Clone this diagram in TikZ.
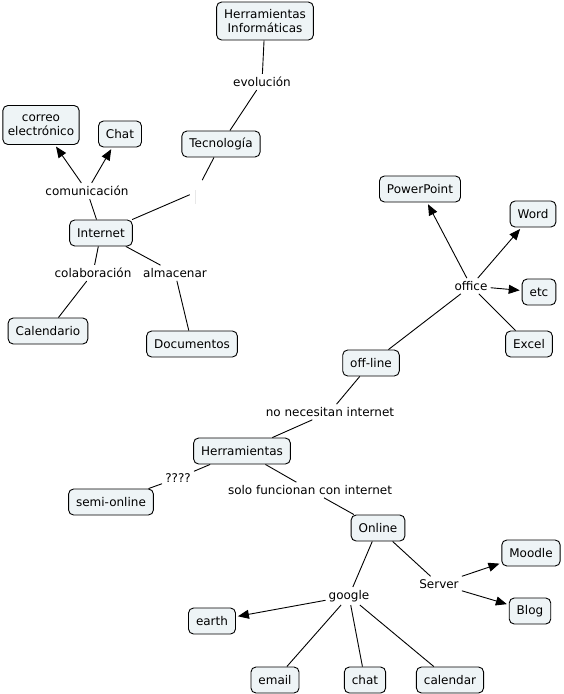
\documentclass[tikz,border=0pt]{standalone}
\usepackage{fontspec}
\setmainfont{DejaVu Sans}
\usetikzlibrary{arrows.meta}
\definecolor{boxfill}{RGB}{238,244,246}
\tikzset{
  concept/.style={draw=black, line width=0.9pt, fill=boxfill, rounded corners=5pt,
    inner xsep=7.5pt, inner ysep=4pt, minimum height=26pt, align=center,
    font=\fontsize{12}{14}\selectfont},
  phrase/.style={inner sep=3pt, font=\fontsize{12}{14}\selectfont},
  link/.style={line width=0.9pt, black},
  arr/.style={link, -{Triangle[length=11pt,width=9pt]}, shorten >=2pt},
}
\begin{document}
\begin{tikzpicture}[x=1pt,y=-1pt]
\path[use as bounding box, fill=white] (0,0) rectangle (564,694);

% concepts
\node[concept, minimum height=38pt] (hi) at (265,21) {Herramientas\\Informáticas};
\node[concept] (tec) at (221,144) {Tecnología};
\node[concept, minimum height=39pt, inner xsep=5pt] (correo) at (41,125) {correo\\electrónico};
\node[concept] (chat1) at (120,134) {Chat};
\node[concept] (internet) at (101,233) {Internet};
\node[concept] (calend) at (48,331) {Calendario};
\node[concept] (docs) at (192,344) {Documentos};
\node[concept] (ppt) at (420,189) {PowerPoint};
\node[concept] (word) at (533,214) {Word};
\node[concept] (etc) at (539,292) {etc};
\node[concept] (excel) at (529,344) {Excel};
\node[concept] (offline) at (371,363) {off-line};
\node[concept] (herr) at (242,451) {Herramientas};
\node[concept] (semi) at (111,502) {semi-online};
\node[concept] (online) at (378,528) {Online};
\node[concept] (moodle) at (531,553) {Moodle};
\node[concept] (blog) at (530,611) {Blog};
\node[concept] (earth) at (212,621) {earth};
\node[concept] (email) at (275,680) {email};
\node[concept] (chat2) at (365,680) {chat};
\node[concept] (calendar) at (450,680) {calendar};

% linking phrases
\node[phrase] (evol) at (262,82) {evolución};
\node[inner sep=0pt, minimum width=12pt, minimum height=24pt] (blank) at (196,192) {};
\draw[gray!18, line width=0.6pt] (195.5,190) -- (195.5,204);
\node[phrase] (comu) at (87,191) {comunicación};
\node[phrase] (colab) at (93,273) {colaboración};
\node[phrase] (almac) at (175,273) {almacenar};
\node[phrase] (office) at (471,286) {office};
\node[phrase] (nonec) at (330,412) {no necesitan internet};
\node[phrase] (q) at (178,478) {????};
\node[phrase] (solo) at (310,490) {solo funcionan con internet};
\node[phrase] (server) at (439,584) {Server};
\node[phrase] (google) at (349,596) {google};

% connectors
\draw[link] (hi) -- (evol);
\draw[link] (evol) -- (tec);
\draw[link] (tec) -- (blank);
\draw[link] (blank) -- (internet);
\draw[link] (internet) -- (comu);
\draw[arr] (comu) -- (correo);
\draw[arr] (comu) -- (chat1);
\draw[link] (internet) -- (colab);
\draw[link] (colab) -- (calend);
\draw[link] (internet) -- (almac);
\draw[link] (almac) -- (docs);
\draw[link] (offline) -- (office);
\draw[arr] (office) -- (ppt);
\draw[arr] (office) -- (word);
\draw[arr] (office) -- (etc);
\draw[link] (office) -- (excel);
\draw[link] (herr) -- (nonec);
\draw[link] (nonec) -- (offline);
\draw[link] (herr) -- (q);
\draw[link] (q) -- (semi);
\draw[link] (herr) -- (solo);
\draw[link] (solo) -- (online);
\draw[link] (online) -- (server);
\draw[arr] (server) -- (moodle);
\draw[arr] (server) -- (blog);
\draw[link] (online) -- (google);
\draw[arr] (google) -- (earth);
\draw[link] (google) -- (email);
\draw[link] (google) -- (chat2);
\draw[link] (google) -- (calendar);
\end{tikzpicture}
\end{document}
